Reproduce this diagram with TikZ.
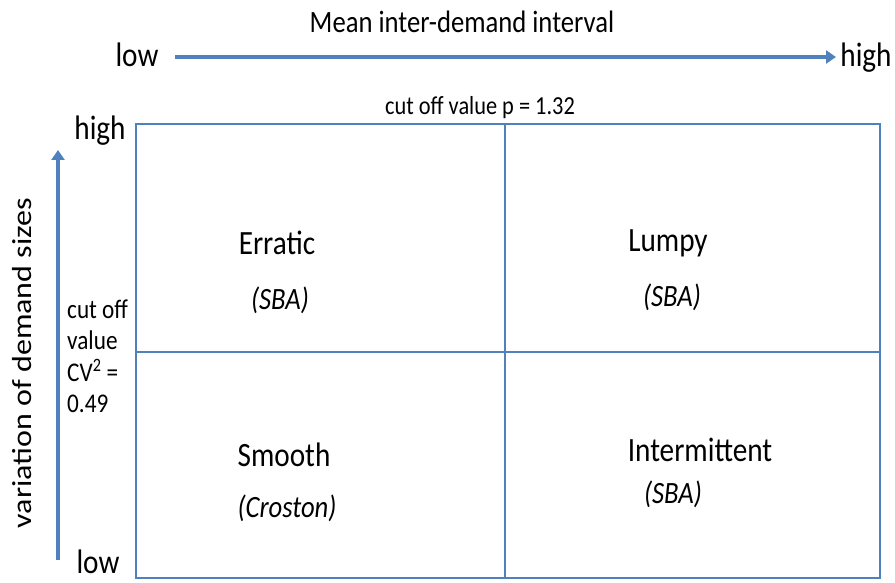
\documentclass[tikz,border=0pt]{standalone}
\usepackage{fontspec}
\setmainfont{Carlito}[FakeStretch=0.86]
\newfontfamily\plainfont{Carlito}
\usetikzlibrary{arrows.meta}
\definecolor{lineblue}{RGB}{79,129,189}
\begin{document}
\begin{tikzpicture}[x=1pt,y=-1pt,
  grid/.style={draw=lineblue,line width=2pt},
  axis/.style={draw=lineblue,line width=3.2pt,-{Triangle[length=10pt,width=13pt]}},
  big/.style={font=\fontsize{34}{36}\selectfont,inner sep=0pt},
  lab/.style={font=\fontsize{34}{36}\selectfont,inner sep=0pt},
  sub/.style={font=\fontsize{31}{33}\selectfont\itshape,inner sep=0pt},
  small/.style={font=\fontsize{27}{29}\selectfont,inner sep=0pt,anchor=base west}]
\useasboundingbox (0,0) rectangle (895,583);
% box
\coordinate (tl) at (136,124);
\coordinate (br) at (880,578);
\draw[grid] (tl) rectangle (br);
\coordinate (vt) at (505,124);
\coordinate (vb) at (505,578);
\coordinate (hl) at (136,352);
\coordinate (hr) at (880,352);
\draw[grid] (vt) -- (vb);
\draw[grid] (hl) -- (hr);
% top axis
\node[font=\fontsize{31}{33}\selectfont,inner sep=0pt,anchor=base] (title) at (462,33) {Mean inter-demand interval};
\node[big,anchor=base] (xlow) at (137,67) {low};
\node[big,anchor=base] (xhigh) at (866,67) {high};
\coordinate (xa) at (175,57);
\coordinate (xb) at (836,57);
\draw[axis] (xa) -- (xb);
\node[font=\fontsize{26}{28}\selectfont,inner sep=0pt,anchor=base] (pcut) at (480,115) {cut off value p = 1.32};
% left axis
\node[big,anchor=base] (yhigh) at (100,140) {high};
\node[big,anchor=base] (ylow) at (98,573) {low};
\coordinate (ya) at (58,560);
\coordinate (yb) at (58,150);
\draw[axis] (ya) -- (yb);
\node[inner sep=0pt,rotate=90] (ytitle) at (22,363) {\scalebox{1}[0.86]{\plainfont\fontsize{32}{34}\selectfont variation of demand sizes}};
\node[small] (cv1) at (67,318) {cut off};
\node[small] (cv2) at (67,349) {value};
\node[small] (cv3) at (67,381) {CV\textsuperscript{2} =};
\node[small] (cv4) at (67,412) {0.49};
% quadrants
\node[lab] (err) at (277,243) {Erratic};
\node[sub] (errs) at (280,300) {(SBA)};
\node[lab] (lum) at (668,243) {Lumpy};
\node[sub] (lums) at (672,297) {(SBA)};
\node[lab] (smo) at (284,455) {Smooth};
\node[sub] (smos) at (287,508) {(Croston)};
\node[lab] (int) at (700,450) {Intermittent};
\node[sub] (ints) at (673,494) {(SBA)};
\end{tikzpicture}
\end{document}
